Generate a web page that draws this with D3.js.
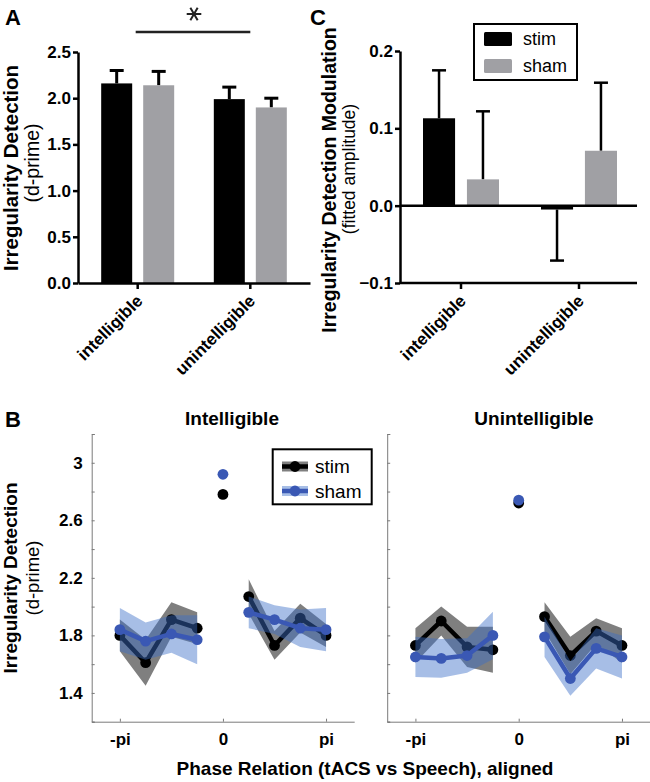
<!DOCTYPE html>
<html><head><meta charset="utf-8">
<script src="https://cdn.jsdelivr.net/npm/d3@7"></script>
<style>
body{margin:0;background:#fff}
svg{display:block}
text{font-family:"Liberation Sans",Arial,Helvetica,sans-serif}
</style>
</head><body>
<svg id="chart" width="650" height="782"></svg>
<script>
// ---------- data ----------
const conditions = ["intelligible", "unintelligible"];
const treatments = ["stim", "sham"];

// Panel A: irregularity detection (d-prime)
const aStimMean = [2.16, 1.99];
const aStimErr  = [0.14, 0.13];
const aShamMean = [2.14, 1.90];
const aShamErr  = [0.15, 0.10];
const aTicks = [0, 0.5, 1.0, 1.5, 2.0, 2.5];

// Panel C: modulation (fitted amplitude)
const cStimMean = [0.113, -0.005];
const cStimErr  = [0.062, -0.066];
const cShamMean = [0.034, 0.071];
const cShamErr  = [0.088, 0.088];
const cTicks = [-0.1, 0.0, 0.1, 0.2];

// Panel B: phase relation
const PI = Math.PI;
const phases = [-PI, -3*PI/4, -PI/2, -PI/4, 0, PI/4, PI/2, 3*PI/4, PI];
const intelStimMean = [1.80, 1.61, 1.91, 1.85, 2.78, 2.07, 1.73, 1.92, 1.80];
const intelStimErr  = [0.11, 0.16, 0.12, 0.11, 0,    0.12, 0.10, 0.10, 0.08];
const intelShamMean = [1.84, 1.76, 1.81, 1.77, 2.92, 1.96, 1.91, 1.85, 1.84];
const intelShamErr  = [0.15, 0.13, 0.13, 0.17, 0,    0.11, 0.10, 0.13, 0.15];
const unintStimMean = [1.73, 1.90, 1.72, 1.70, 2.72, 1.93, 1.66, 1.83, 1.73];
const unintStimErr  = [0.12, 0.10, 0.14, 0.16, 0,    0.10, 0.13, 0.09, 0.12];
const unintShamMean = [1.65, 1.64, 1.66, 1.80, 2.74, 1.79, 1.50, 1.71, 1.65];
const unintShamErr  = [0.14, 0.135, 0.12, 0.165, 0,  0.14, 0.12, 0.14, 0.15];
const phaseTickValues = [-PI, 0, PI];
const phaseTickLabels = ["-pi", "0", "pi"];
const bYTicks = [1.2, 1.4, 1.6, 1.8, 2.0, 2.2, 2.4, 2.6, 2.8, 3.0, 3.2];
const bYLabelled = [1.4, 1.8, 2.2, 2.6, 3.0];

// ---------- styles ----------
const BLACK = "#000000";
const GRAY = "#a0a0a4";
const BLUE = "#3a58b4";
const BAND_GRAY = "rgba(0,0,0,0.5)";
const BAND_BLUE = "rgba(60,110,200,0.45)";

const svg = d3.select("#chart");

function boldAxisText(g, size) {
  g.selectAll("text").attr("font-size", size).attr("font-weight", "bold").attr("fill", "#000")
    .attr("font-family", '"Liberation Sans",Arial,sans-serif');
}

// ================= Panel A =================
(function () {
  const yA = d3.scaleLinear().domain([0, 2.5]).range([283, 52]);
  const xA = d3.scaleBand().domain(conditions).range([78, 310]).paddingInner(0).paddingOuter(0.03);
  const xSub = d3.scaleBand().domain(treatments).range([-36.5, 36.5]).paddingInner(0.262).paddingOuter(0);
  const g = svg.append("g");

  const rows = [];
  conditions.forEach((c, i) => {
    rows.push({c, t: "stim", m: aStimMean[i], e: aStimErr[i]});
    rows.push({c, t: "sham", m: aShamMean[i], e: aShamErr[i]});
  });
  const cx = d => xA(d.c) + xA.bandwidth() / 2 + xSub(d.t);
  rows.forEach(d => {
    const mid = cx(d) + xSub.bandwidth() / 2;
    g.append("line").attr("x1", mid).attr("x2", mid).attr("y1", yA(d.m)).attr("y2", yA(d.m + d.e))
      .attr("stroke", "#000").attr("stroke-width", 3);
    g.append("line").attr("x1", mid - 7).attr("x2", mid + 7).attr("y1", yA(d.m + d.e)).attr("y2", yA(d.m + d.e))
      .attr("stroke", "#000").attr("stroke-width", 3);
  });
  g.selectAll("rect.bar").data(rows).join("rect").attr("class", "bar")
    .attr("x", cx).attr("width", xSub.bandwidth())
    .attr("y", d => yA(d.m)).attr("height", d => yA(0) - yA(d.m))
    .attr("fill", d => d.t === "stim" ? BLACK : GRAY);

  const ay = g.append("g").attr("transform", "translate(78,0)")
    .call(d3.axisLeft(yA).tickValues(aTicks).tickFormat(d3.format(".1f")).tickSize(5).tickSizeOuter(0).tickPadding(2));
  ay.selectAll("path,line").attr("stroke", "#000").attr("stroke-width", 2.5);
  boldAxisText(ay, 17);

  const ax = g.append("g").attr("transform", "translate(0,283)")
    .call(d3.axisBottom(xA).tickSize(6).tickSizeOuter(0).tickFormat(""));
  ax.selectAll("path,line").attr("stroke", "#000").attr("stroke-width", 2.5);
  conditions.forEach(c => {
    const tx = xA(c) + xA.bandwidth() / 2;
    g.append("text").attr("transform", `translate(${tx + 6},${302}) rotate(-45)`)
      .attr("text-anchor", "end").attr("font-size", 17).attr("font-weight", "bold").text(c);
  });

  g.append("text").attr("transform", "translate(18,168) rotate(-90)").attr("text-anchor", "middle")
    .attr("font-size", 20.5).attr("font-weight", "bold").text("Irregularity Detection");
  g.append("text").attr("transform", "translate(39,163) rotate(-90)").attr("text-anchor", "middle")
    .attr("font-size", 19.5).text("(d-prime)");

  const x1 = xA(conditions[0]) + xA.bandwidth() / 2, x2 = xA(conditions[1]) + xA.bandwidth() / 2;
  g.append("line").attr("x1", x1 - 2).attr("x2", x2).attr("y1", 32).attr("y2", 32)
    .attr("stroke", "#222").attr("stroke-width", 2.5);
  g.append("path").attr("d", d3.symbol(d3.symbolAsterisk, 150)())
    .attr("transform", `translate(${(x1 + x2) / 2},14) rotate(90)`)
    .attr("fill", "none").attr("stroke", "#222").attr("stroke-width", 2);

  svg.append("text").attr("x", 5).attr("y", 25).attr("font-size", 22).attr("font-weight", "bold").text("A");
})();

// ================= Panel C =================
(function () {
  const yC = d3.scaleLinear().domain([-0.1, 0.2]).range([283, 51]);
  const xC = d3.scaleBand().domain(conditions).range([400, 640]).paddingInner(0).paddingOuter(0.017);
  const xSub = d3.scaleBand().domain(treatments).range([-38, 38]).paddingInner(0.27).paddingOuter(0);
  const g = svg.append("g");

  const rows = [];
  conditions.forEach((c, i) => {
    rows.push({c, t: "stim", m: cStimMean[i], e: cStimErr[i]});
    rows.push({c, t: "sham", m: cShamMean[i], e: cShamErr[i]});
  });
  const cx = d => xC(d.c) + xC.bandwidth() / 2 + xSub(d.t);
  rows.forEach(d => {
    const mid = cx(d) + xSub.bandwidth() / 2;
    g.append("line").attr("x1", mid).attr("x2", mid).attr("y1", yC(d.m)).attr("y2", yC(d.m + d.e))
      .attr("stroke", "#000").attr("stroke-width", 2.5);
    g.append("line").attr("x1", mid - 7).attr("x2", mid + 7).attr("y1", yC(d.m + d.e)).attr("y2", yC(d.m + d.e))
      .attr("stroke", "#000").attr("stroke-width", 2.5);
  });
  g.selectAll("rect.bar").data(rows).join("rect").attr("class", "bar")
    .attr("x", cx).attr("width", xSub.bandwidth())
    .attr("y", d => Math.min(yC(d.m), yC(0))).attr("height", d => Math.abs(yC(0) - yC(d.m)))
    .attr("fill", d => d.t === "stim" ? BLACK : GRAY);

  g.append("line").attr("x1", 400).attr("x2", 637).attr("y1", yC(0)).attr("y2", yC(0))
    .attr("stroke", "#000").attr("stroke-width", 2.5);

  const ay = g.append("g").attr("transform", "translate(400,0)")
    .call(d3.axisLeft(yC).tickValues(cTicks).tickFormat(d3.format(".1f")).tickSize(5).tickSizeOuter(0).tickPadding(2));
  ay.selectAll("path,line").attr("stroke", "#000").attr("stroke-width", 2.5);
  boldAxisText(ay, 17);

  const ax = g.append("g").attr("transform", `translate(0,${yC(-0.1)})`)
    .call(d3.axisBottom(xC).tickSize(6).tickSizeOuter(0).tickFormat(""));
  ax.select("path").attr("d", `M400,0H637`);
  ax.selectAll("path,line").attr("stroke", "#000").attr("stroke-width", 2.5);
  conditions.forEach(c => {
    const tx = xC(c) + xC.bandwidth() / 2;
    g.append("text").attr("transform", `translate(${tx + 6},${302}) rotate(-45)`)
      .attr("text-anchor", "end").attr("font-size", 17).attr("font-weight", "bold").text(c);
  });

  g.append("text").attr("transform", "translate(336,180) rotate(-90)").attr("text-anchor", "middle")
    .attr("font-size", 19.5).attr("font-weight", "bold").text("Irregularity Detection Modulation");
  g.append("text").attr("transform", "translate(355,169) rotate(-90)").attr("text-anchor", "middle")
    .attr("font-size", 17.5).text("(fitted amplitude)");

  const lg = g.append("g");
  lg.append("rect").attr("x", 474).attr("y", 24).attr("width", 103).attr("height", 56)
    .attr("fill", "#fff").attr("stroke", "#000").attr("stroke-width", 2);
  treatments.forEach((t, i) => {
    lg.append("rect").attr("x", 484).attr("y", 32 + i * 27).attr("width", 28).attr("height", 14)
      .attr("rx", 1.5).attr("fill", t === "stim" ? BLACK : GRAY);
    lg.append("text").attr("x", 523).attr("y", 45 + i * 27).attr("font-size", 18).text(t);
  });

  svg.append("text").attr("x", 310).attr("y", 25).attr("font-size", 22).attr("font-weight", "bold").text("C");
})();

// ================= Panel B =================
(function () {
  const yB = d3.scaleLinear().domain([1.2, 3.2]).range([721.7, 434]);
  const panels = [
    {title: "Intelligible", x: d3.scaleLinear().domain([-4, 4]).range([91.7, 354.2]),
     sm: intelStimMean, se: intelStimErr, hm: intelShamMean, he: intelShamErr, labels: true, tx: 232},
    {title: "Unintelligible", x: d3.scaleLinear().domain([-4, 4]).range([387.2, 650.2]),
     sm: unintStimMean, se: unintStimErr, hm: unintShamMean, he: unintShamErr, labels: false, tx: 534}
  ];
  const segments = [[0, 1, 2, 3], [5, 6, 7, 8]];

  panels.forEach(p => {
    const g = svg.append("g");
    const x = p.x;
    const area = d3.area().x(i => x(phases[i]));
    const line = d3.line().x(i => x(phases[i]));

    function drawSeries(mean, err, bandFill, color) {
      segments.forEach(seg => {
        g.append("path").datum(seg)
          .attr("d", area.y0(i => yB(mean[i] - err[i])).y1(i => yB(mean[i] + err[i])))
          .attr("fill", bandFill);
      });
      segments.forEach(seg => {
        g.append("path").datum(seg).attr("d", line.y(i => yB(mean[i])))
          .attr("fill", "none").attr("stroke", color).attr("stroke-width", 4.5).attr("stroke-linejoin", "round");
      });
      g.selectAll(null).data(d3.range(phases.length)).join("circle")
        .attr("cx", i => x(phases[i])).attr("cy", i => yB(mean[i])).attr("r", 5.4).attr("fill", color);
    }
    drawSeries(p.sm, p.se, BAND_GRAY, BLACK);
    drawSeries(p.hm, p.he, BAND_BLUE, BLUE);

    const ay = g.append("g").attr("transform", `translate(${x(-4)},0)`)
      .call(d3.axisLeft(yB).tickValues(bYTicks).tickSize(-3).tickSizeOuter(-3).tickPadding(9)
        .tickFormat(d => (p.labels && bYLabelled.some(v => Math.abs(v - d) < 1e-9)) ? d3.format("")(+d.toFixed(1)) : ""));
    ay.selectAll("path,line").attr("stroke", "#7a7a7a").attr("stroke-width", 1);
    boldAxisText(ay, 17);

    const ax = g.append("g").attr("transform", `translate(0,${yB(1.2)})`)
      .call(d3.axisBottom(x).tickValues(phaseTickValues).tickSize(-3).tickSizeOuter(0).tickPadding(11)
        .tickFormat((d, i) => phaseTickLabels[i]));
    ax.selectAll("path,line").attr("stroke", "#7a7a7a").attr("stroke-width", 1);
    boldAxisText(ax, 17);

    g.append("text").attr("x", p.tx).attr("y", 425).attr("text-anchor", "middle")
      .attr("font-size", 19).attr("font-weight", "bold").text(p.title);
  });

  const lg = svg.append("g");
  lg.append("rect").attr("x", 272.7).attr("y", 449.3).attr("width", 99).attr("height", 55)
    .attr("fill", "#fff").attr("stroke", "#000").attr("stroke-width", 2);
  const items = [{t: "stim", band: BAND_GRAY, c: BLACK}, {t: "sham", band: BAND_BLUE, c: BLUE}];
  items.forEach((d, i) => {
    const cy = 466.5 + i * 24.5;
    lg.append("rect").attr("x", 282).attr("y", cy - 5).attr("width", 26).attr("height", 10).attr("fill", d.band);
    lg.append("line").attr("x1", 282).attr("x2", 308).attr("y1", cy).attr("y2", cy)
      .attr("stroke", d.c).attr("stroke-width", 4.5);
    lg.append("circle").attr("cx", 295).attr("cy", cy).attr("r", 5.4).attr("fill", d.c);
    lg.append("text").attr("x", 315).attr("y", cy + 6.5).attr("font-size", 19).text(d.t);
  });

  svg.append("text").attr("transform", "translate(17,578) rotate(-90)").attr("text-anchor", "middle")
    .attr("font-size", 19).attr("font-weight", "bold").text("Irregularity Detection");
  svg.append("text").attr("transform", "translate(39,578) rotate(-90)").attr("text-anchor", "middle")
    .attr("font-size", 18.5).text("(d-prime)");
  svg.append("text").attr("x", 365).attr("y", 775).attr("text-anchor", "middle")
    .attr("font-size", 19).attr("font-weight", "bold").text("Phase Relation (tACS vs Speech), aligned");

  svg.append("text").attr("x", 5).attr("y", 427).attr("font-size", 22).attr("font-weight", "bold").text("B");
})();
</script>
</body></html>
